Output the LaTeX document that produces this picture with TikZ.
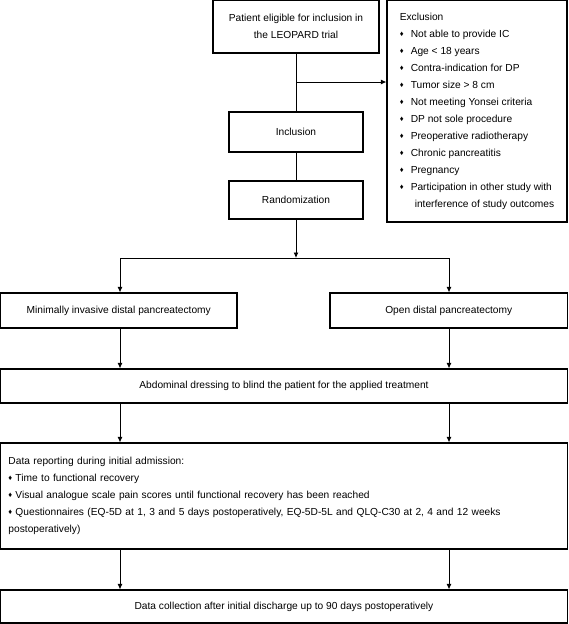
\documentclass[tikz,border=0pt]{standalone}
\usepackage{fontspec}
\setmainfont{Liberation Sans}
\usetikzlibrary{calc,arrows.meta}
\newcommand{\dmd}[1][11pt]{\makebox[#1][l]{\raisebox{.15ex}{\fontsize{7.5}{7.5}\selectfont ♦}}}

\begin{document}
\begin{tikzpicture}[x=1pt,y=-1pt,
            box/.style={draw,line width=1.1pt,inner sep=0pt,font=\fontsize{10.2}{17}\selectfont},
            conn/.style={line width=.9pt},
            arr/.style={conn,-{Latex[length=5.5pt,width=5pt]}}]
            \useasboundingbox (0,0) rectangle (568,624);

            % boxes
            \node[box,minimum width=166,minimum height=52.5,align=center] (elig) at (296,26.75) {Patient eligible for inclusion in\\the LEOPARD trial};
            \node[box,minimum width=180,minimum height=221.5,align=left] (excl) at (477,111.25) {Exclusion\\
                \dmd Not able to provide IC\\
                \dmd Age < 18 years\\
                \dmd Contra-indication for DP\\
                \dmd Tumor size > 8 cm\\
                \dmd Not meeting Yonsei criteria\\
                \dmd DP not sole procedure\\
                \dmd Preoperative radiotherapy\\
                \dmd Chronic pancreatitis\\
                \dmd Pregnancy\\
                \dmd Participation in other study with\\
                \hspace*{15pt}interference of study outcomes};
            \node[box,minimum width=134,minimum height=40] (incl) at (296,132) {Inclusion};
            \node[box,minimum width=134,minimum height=38] (rand) at (296,200) {Randomization};
            \node[box,minimum width=236.5,minimum height=35] (mip) at (118.75,310.5) {Minimally invasive distal pancreatectomy};
            \node[box,minimum width=237.5,minimum height=35] (odp) at (448.75,310.5) {Open distal pancreatectomy};
            \node[box,minimum width=567,minimum height=34] (dress) at (284,386) {Abdominal dressing to blind the patient for the applied treatment};
            \node[box,text width=551,inner xsep=8,minimum height=106,align=left] (data) at (284,496) {Data reporting during initial admission:\\
                \dmd[7pt]Time to functional recovery\\
                \dmd[7pt]Visual analogue scale pain scores until functional recovery has been reached\\
                \dmd[7pt]Questionnaires (EQ-5D at 1, 3 and 5 days postoperatively, EQ-5D-5L and QLQ-C30 at 2, 4 and 12 weeks\\
                postoperatively)};
            \node[box,minimum width=567,minimum height=33] (coll) at (284,606.5) {Data collection after initial discharge up to 90 days postoperatively};

            % connectors
            \coordinate (branch) at (296,82);
            \coordinate (split) at (296,258);
            \coordinate (colL) at (120,258);
            \coordinate (colR) at (449,258);

            \draw[conn] (elig) -- (incl);
            \draw[arr] (branch) -- (excl.west |- branch);
            \draw[conn] (incl) -- (rand);
            \draw[arr] (rand) -- (split);
            \draw[conn] (colL) -- (colR);
            \foreach \c in {colL,colR} {
                \draw[arr] (\c) -- (\c |- mip.north);
                \draw[arr] (\c |- mip.south) -- (\c |- dress.north);
                \draw[arr] (\c |- dress.south) -- (\c |- data.north);
                \draw[arr] (\c |- data.south) -- (\c |- coll.north);}
\end{tikzpicture}
\end{document}
